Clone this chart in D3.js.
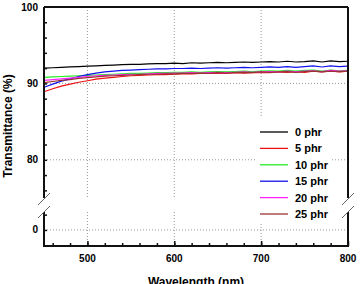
<!DOCTYPE html>
<html>
<head>
<meta charset="utf-8">
<script src="https://cdn.jsdelivr.net/npm/d3@7"></script>
<style>
    body { margin: 0; background: #fff; }
    text { font-family: "Liberation Sans", Arial, sans-serif; font-weight: bold; }
</style>
</head>
<body>
<svg id="chart" width="361" height="284"></svg>
<script>
// wavelength (nm), one reading every 10 nm
var wavelengths = [450, 460, 470, 480, 490, 500, 510, 520, 530, 540, 550, 560, 570, 580, 590, 600, 610, 620,
    630, 640, 650, 660, 670, 680, 690, 700, 710, 720, 730, 740, 750, 760, 770, 780, 790, 800];

var seriesNames = ["0 phr", "5 phr", "10 phr", "15 phr", "20 phr", "25 phr"];
var seriesColors = ["#000000", "#ee1111", "#22ee22", "#1111ee", "#ff22ff", "#993333"];

var t0 = [92.0, 92.05, 92.1, 92.15, 92.2, 92.25, 92.3, 92.35, 92.4, 92.45, 92.5, 92.5, 92.55, 92.6, 92.6, 92.65, 92.6, 92.7,
    92.65, 92.7, 92.75, 92.7, 92.75, 92.8, 92.75, 92.8, 92.85, 92.8, 92.9, 92.8, 92.85, 92.95, 92.8, 92.95, 92.85, 92.9];
var t5 = [88.9, 89.3, 89.65, 89.9, 90.15, 90.35, 90.55, 90.7, 90.8, 90.9, 91.0, 91.05, 91.1, 91.15, 91.15, 91.2, 91.25, 91.25,
    91.3, 91.3, 91.35, 91.3, 91.4, 91.35, 91.4, 91.45, 91.4, 91.5, 91.45, 91.55, 91.45, 91.6, 91.5, 91.65, 91.5, 91.6];
var t10 = [90.8, 90.85, 90.9, 90.95, 91.0, 91.05, 91.1, 91.15, 91.2, 91.25, 91.3, 91.3, 91.35, 91.4, 91.4, 91.45, 91.45, 91.5,
    91.45, 91.5, 91.55, 91.5, 91.55, 91.6, 91.55, 91.6, 91.65, 91.6, 91.7, 91.6, 91.7, 91.75, 91.6, 91.75, 91.65, 91.7];
var t15 = [89.5, 89.9, 90.3, 90.6, 90.9, 91.15, 91.35, 91.5, 91.6, 91.7, 91.75, 91.8, 91.85, 91.9, 91.9, 91.95, 91.95, 92.0,
    91.95, 92.0, 92.05, 92.0, 92.05, 92.1, 92.05, 92.1, 92.15, 92.1, 92.2, 92.1, 92.2, 92.3, 92.15, 92.3, 92.2, 92.25];
var t20 = [90.4, 90.5, 90.6, 90.7, 90.8, 90.9, 91.0, 91.05, 91.1, 91.15, 91.2, 91.2, 91.25, 91.3, 91.3, 91.35, 91.35, 91.4,
    91.35, 91.4, 91.45, 91.4, 91.45, 91.5, 91.45, 91.5, 91.55, 91.5, 91.6, 91.5, 91.6, 91.65, 91.55, 91.7, 91.6, 91.65];
var t25 = [90.1, 90.25, 90.4, 90.5, 90.65, 90.75, 90.85, 90.95, 91.0, 91.05, 91.1, 91.15, 91.2, 91.2, 91.25, 91.25, 91.3, 91.3,
    91.35, 91.3, 91.4, 91.35, 91.4, 91.45, 91.4, 91.5, 91.45, 91.5, 91.55, 91.45, 91.55, 91.6, 91.5, 91.6, 91.55, 91.6];
var seriesValues = [t0, t5, t10, t15, t20, t25];

var xTickValues = [500, 600, 700, 800];
var upperTickLabels = [80, 90, 100];
var lowerTickLabels = [0];

var svg = d3.select("#chart");
var plotLeft = 44, plotRight = 348, plotTop = 7, plotBottom = 246;
var upperBottom = 198, lowerTop = 212;

var x = d3.scaleLinear().domain([450, 800]).range([plotLeft, plotRight]);
var yUp = d3.scaleLinear().domain([75, 100]).range([upperBottom, plotTop]);
var yLow = d3.scaleLinear().domain([-2.1, 2.35]).range([plotBottom, lowerTop]);

// dotted grid
var grid = svg.append("g").attr("stroke", "#999").attr("stroke-width", 1).attr("stroke-dasharray", "1,2");
[500, 600, 700].forEach(function (v) {
    grid.append("line").attr("x1", x(v)).attr("x2", x(v)).attr("y1", plotTop).attr("y2", upperBottom);
    grid.append("line").attr("x1", x(v)).attr("x2", x(v)).attr("y1", lowerTop).attr("y2", plotBottom);
});
[80, 90].forEach(function (v) {
    grid.append("line").attr("x1", plotLeft).attr("x2", plotRight).attr("y1", yUp(v)).attr("y2", yUp(v));
});
grid.append("line").attr("x1", plotLeft).attr("x2", plotRight).attr("y1", yLow(0)).attr("y2", yLow(0));

// spectra
var line = d3.line()
    .x(function (d) { return x(d[0]); })
    .y(function (d) { return yUp(d[1]); });

svg.append("g").selectAll("path")
    .data(seriesValues)
    .enter()
    .append("path")
    .attr("d", function (vals) { return line(vals.map(function (v, i) { return [wavelengths[i], v]; })); })
    .attr("fill", "none")
    .attr("stroke", function (d, i) { return seriesColors[i]; })
    .attr("stroke-width", 1.2);

// frame
var frame = svg.append("g").attr("stroke", "#111").attr("stroke-width", 2).attr("fill", "none");
frame.append("line").attr("x1", plotLeft).attr("x2", plotRight).attr("y1", plotTop).attr("y2", plotTop);
frame.append("line").attr("x1", plotLeft - 1).attr("x2", plotRight + 1).attr("y1", plotBottom).attr("y2", plotBottom);
[plotLeft, plotRight].forEach(function (xx) {
    frame.append("line").attr("x1", xx).attr("x2", xx).attr("y1", plotTop).attr("y2", upperBottom);
    frame.append("line").attr("x1", xx).attr("x2", xx).attr("y1", lowerTop).attr("y2", plotBottom);
    // axis break marks
    frame.append("line").attr("x1", xx - 6).attr("x2", xx + 6).attr("y1", upperBottom + 7).attr("y2", upperBottom - 5)
        .attr("stroke-width", 1).attr("stroke", "#666");
    frame.append("line").attr("x1", xx - 6).attr("x2", xx + 6).attr("y1", lowerTop + 6).attr("y2", lowerTop - 6)
        .attr("stroke-width", 1).attr("stroke", "#666");
});

// axes (ticks inward)
var xAxis = d3.axisTop(x).tickValues(d3.range(460, 800, 20)).tickSize(3).tickFormat("");
svg.append("g").attr("transform", "translate(0," + plotBottom + ")").call(xAxis);
var xAxisMajor = d3.axisTop(x).tickValues(xTickValues).tickSize(5).tickFormat("");
svg.append("g").attr("transform", "translate(0," + plotBottom + ")").call(xAxisMajor);

svg.append("g").attr("transform", "translate(" + plotLeft + ",0)")
    .call(d3.axisRight(yUp).tickValues(d3.range(76, 100, 2)).tickSize(3).tickFormat(""));
svg.append("g").attr("transform", "translate(" + plotLeft + ",0)")
    .call(d3.axisRight(yLow).tickValues([-2, 0, 2]).tickSize(3).tickFormat(""));
svg.selectAll(".domain").remove();
svg.selectAll(".tick line").attr("stroke", "#111").attr("stroke-width", 1.5);

// tick labels
svg.append("g").selectAll("text")
    .data(xTickValues)
    .enter()
    .append("text")
    .attr("x", function (d) { return x(d); })
    .attr("y", 262)
    .attr("text-anchor", "middle")
    .attr("font-size", 10)
    .text(function (d) { return d; });

svg.append("g").selectAll("text")
    .data(upperTickLabels)
    .enter()
    .append("text")
    .attr("x", 38)
    .attr("y", function (d) { return yUp(d) + 3.5; })
    .attr("text-anchor", "end")
    .attr("font-size", 10)
    .text(function (d) { return d; });

svg.append("g").selectAll("text")
    .data(lowerTickLabels)
    .enter()
    .append("text")
    .attr("x", 38)
    .attr("y", function (d) { return yLow(d) + 3.5; })
    .attr("text-anchor", "end")
    .attr("font-size", 10)
    .text(function (d) { return d; });

// axis titles
svg.append("text")
    .attr("x", (plotLeft + plotRight) / 2)
    .attr("y", 286)
    .attr("text-anchor", "middle")
    .attr("font-size", 12)
    .text("Wavelength (nm)");

svg.append("text")
    .attr("transform", "translate(12,126) rotate(-90)")
    .attr("text-anchor", "middle")
    .attr("font-size", 12)
    .text("Transmittance (%)");

// legend
svg.append("rect")
    .attr("x", 256).attr("y", 118).attr("width", 76).attr("height", 104)
    .attr("fill", "#fff");

var legend = svg.append("g").selectAll("g")
    .data(seriesNames)
    .enter()
    .append("g")
    .attr("transform", function (d, i) { return "translate(0," + (132 + i * 16.4) + ")"; });

legend.append("line")
    .attr("x1", 260).attr("x2", 288)
    .attr("y1", 0).attr("y2", 0)
    .attr("stroke", function (d, i) { return seriesColors[i]; })
    .attr("stroke-width", 1.3);

legend.append("text")
    .attr("x", 295)
    .attr("y", 4)
    .attr("font-size", 11)
    .text(function (d) { return d; });
</script>
</body>
</html>
